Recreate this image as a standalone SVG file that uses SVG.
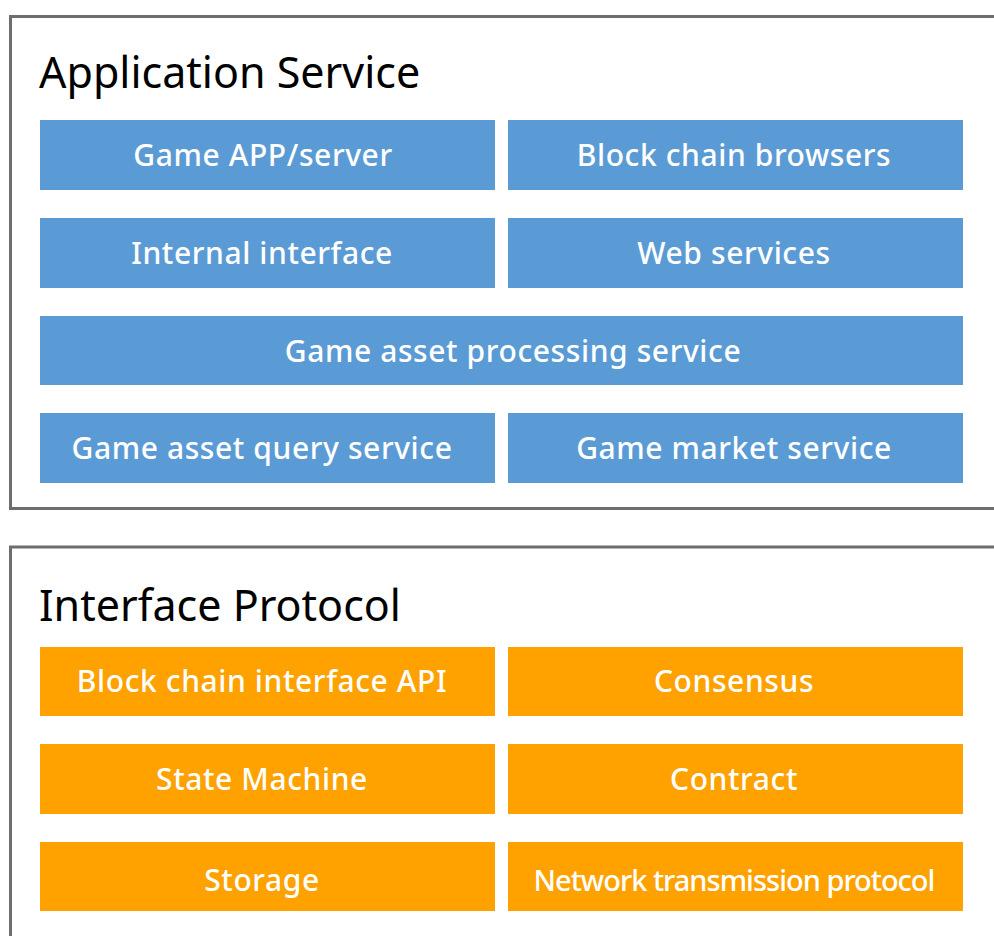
<svg xmlns="http://www.w3.org/2000/svg" width="994" height="936" viewBox="0 0 994 936">
  <style>
    .frame { fill: #ffffff; stroke: #6e6e6e; stroke-width: 3; }
    .title { font-family: "Noto Sans", "Open Sans", sans-serif; font-size: 43px; fill: #000000; }
    .blue { fill: #5B9BD5; }
    .orange { fill: #FFA200; }
    .label { font-family: "Noto Sans", "Open Sans", sans-serif; font-size: 30px; font-weight: 500; fill: #ffffff; text-anchor: middle; letter-spacing: 0.6px; }
    .tight { font-size: 29px; letter-spacing: -1px; }
  </style>
  <rect width="994" height="936" fill="#ffffff"/>

  <!-- Application layer -->
  <g id="application-service">
    <rect class="frame" x="10.5" y="16.5" width="1000" height="492"/>
    <text class="title" x="39" y="88">Application Service</text>
  </g>
  <g id="game-app-server">
    <rect class="blue" x="40" y="120" width="455" height="70"/>
    <text class="label" x="263" y="166">Game APP/server</text>
  </g>
  <g id="block-chain-browsers">
    <rect class="blue" x="508" y="120" width="455" height="70"/>
    <text class="label" x="734" y="166">Block chain browsers</text>
  </g>
  <g id="internal-interface">
    <rect class="blue" x="40" y="218" width="455" height="70"/>
    <text class="label" x="262" y="264">Internal interface</text>
  </g>
  <g id="web-services">
    <rect class="blue" x="508" y="218" width="455" height="70"/>
    <text class="label" x="734" y="264">Web services</text>
  </g>
  <g id="game-asset-processing-service">
    <rect class="blue" x="40" y="316" width="923" height="69"/>
    <text class="label" x="513" y="362">Game asset processing service</text>
  </g>
  <g id="game-asset-query-service">
    <rect class="blue" x="40" y="413" width="455" height="70"/>
    <text class="label" x="262" y="459">Game asset query service</text>
  </g>
  <g id="game-market-service">
    <rect class="blue" x="508" y="413" width="455" height="70"/>
    <text class="label" x="734" y="459">Game market service</text>
  </g>

  <!-- Protocol layer -->
  <g id="interface-protocol">
    <rect class="frame" x="10.5" y="547" width="1000" height="420"/>
    <text class="title" x="39" y="621">Interface Protocol</text>
  </g>
  <g id="block-chain-interface-api">
    <rect class="orange" x="40" y="647" width="455" height="69"/>
    <text class="label" x="262" y="692">Block chain interface API</text>
  </g>
  <g id="consensus">
    <rect class="orange" x="508" y="647" width="455" height="69"/>
    <text class="label" x="734" y="692">Consensus</text>
  </g>
  <g id="state-machine">
    <rect class="orange" x="40" y="744" width="455" height="70"/>
    <text class="label" x="262" y="790">State Machine</text>
  </g>
  <g id="contract">
    <rect class="orange" x="508" y="744" width="455" height="70"/>
    <text class="label" x="734" y="790">Contract</text>
  </g>
  <g id="storage">
    <rect class="orange" x="40" y="842" width="455" height="69"/>
    <text class="label" x="262" y="891">Storage</text>
  </g>
  <g id="network-transmission-protocol">
    <rect class="orange" x="508" y="842" width="455" height="69"/>
    <text class="label tight" x="734" y="891">Network transmission protocol</text>
  </g>
</svg>
